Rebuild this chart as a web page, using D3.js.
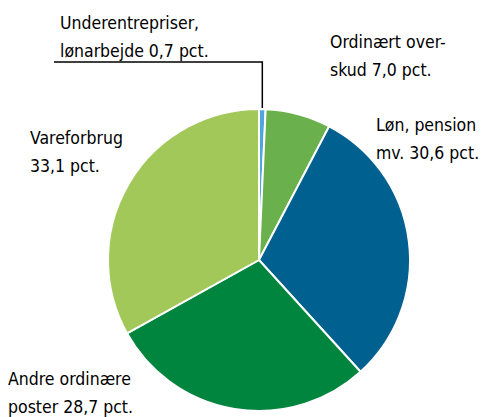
<!DOCTYPE html>
<html>
<head>
<meta charset="utf-8">
<script src="https://cdn.jsdelivr.net/npm/d3@7"></script>
<style>
  body { margin: 0; background: #fff; }
  svg text { font-family: "DejaVu Sans", sans-serif; font-stretch: condensed; font-size: 17.5px; fill: #000; }
</style>
</head>
<body>
<svg id="chart" width="481" height="417"></svg>
<script>
// slices clockwise from 12 o'clock
const categories = ["Underentrepriser, lønarbejde", "Ordinært overskud", "Løn, pension mv.", "Andre ordinære poster", "Vareforbrug"];
const values = [0.7, 7.0, 30.6, 28.7, 33.1];
const colors = ["#4ea6dc", "#6ab04c", "#00608f", "#00853f", "#a3c85a"];
const labelLines = [
  ["Underentrepriser,", "lønarbejde 0,7 pct."],
  ["Ordinært over-", "skud 7,0 pct."],
  ["Løn, pension", "mv. 30,6 pct."],
  ["Andre ordinære", "poster 28,7 pct."],
  ["Vareforbrug", "33,1 pct."]
];

const svg = d3.select("#chart");
const cx = 259, cy = 260, r = 151;

const pie = d3.pie().sort(null).value(d => d);
const arcs = pie(values);
const arc = d3.arc().innerRadius(0).outerRadius(r);

const g = svg.append("g").attr("transform", `translate(${cx},${cy})`);
g.selectAll("path").data(arcs).join("path")
  .attr("d", arc)
  .attr("fill", (d, i) => colors[i])
  .attr("stroke", "#fff")
  .attr("stroke-width", 2);

// label positions (baseline of first line)
const labelPos = [[60, 29], [330, 48], [376, 131], [8, 385], [30, 144]];
const lineGap = 28;

svg.selectAll("text.lbl").data(labelLines).join("text")
  .attr("class", "lbl")
  .attr("x", (d, i) => labelPos[i][0])
  .attr("y", (d, i) => labelPos[i][1])
  .each(function(d, i) {
    d3.select(this).selectAll("tspan").data(d).join("tspan")
      .attr("x", labelPos[i][0])
      .attr("dy", (t, j) => j === 0 ? 0 : lineGap)
      .text(t => t);
  });

// leader line for the small slice
const mid = (arcs[0].startAngle + arcs[0].endAngle) / 2;
const px = cx + Math.sin(mid) * r * 0.999;
const topY = cy - r - 1;
svg.append("path")
  .attr("d", `M${px},${topY} V62 H54`)
  .attr("fill", "none")
  .attr("stroke", "#000")
  .attr("stroke-width", 1.5);
</script>
</body>
</html>
